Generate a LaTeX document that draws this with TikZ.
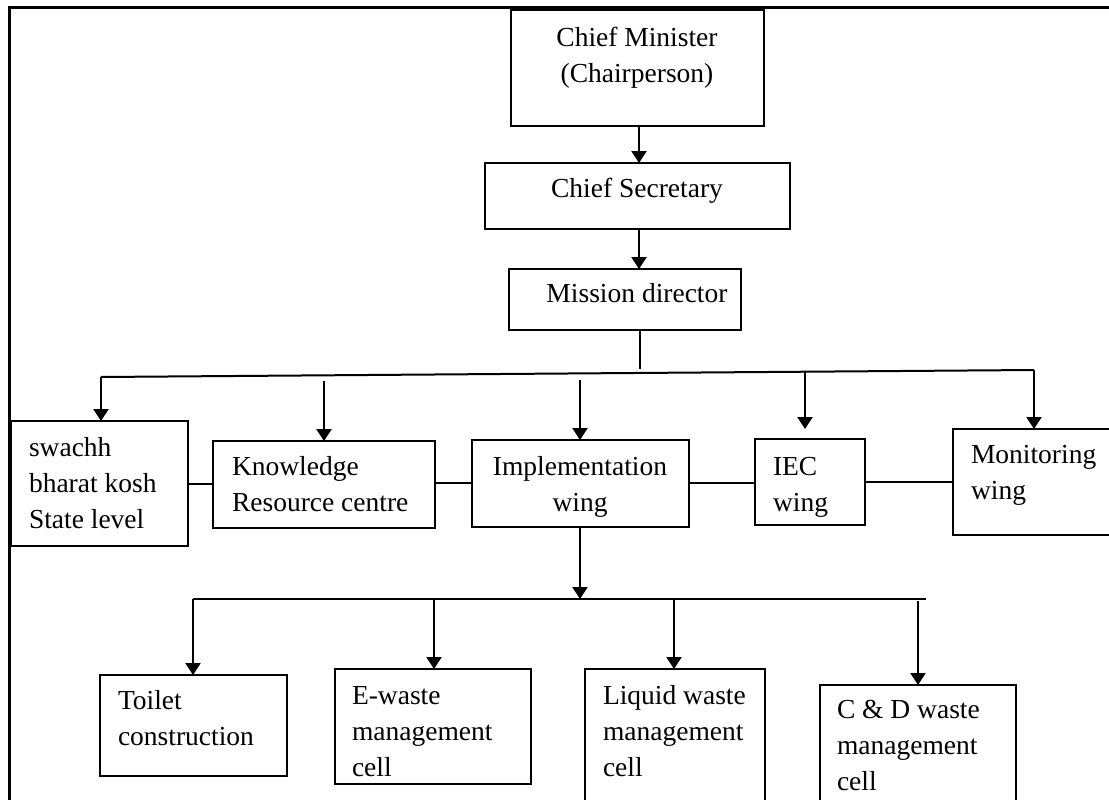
\documentclass[tikz,border=0pt]{standalone}
\usepackage{fontspec}
\setmainfont{Liberation Serif}
\usetikzlibrary{arrows.meta}
\begin{document}
\begin{tikzpicture}[x=1pt,y=-1pt,
  boxshape/.style={draw, line width=2pt, inner sep=0pt, outer sep=0pt, anchor=north west},
  txt/.style={inner sep=0pt, outer sep=0pt, font=\fontsize{27.5}{36}\selectfont, align=left, anchor=base west},
  ctxt/.style={inner sep=0pt, outer sep=0pt, font=\fontsize{27.5}{36}\selectfont, align=center, anchor=base},
  arr/.style={line width=2.3pt, -{Triangle[width=15pt,length=12pt]}},
  bus/.style={line width=2pt},
  link/.style={line width=1.6pt}
]
\useasboundingbox (0,0) rectangle (1109,800);
\clip (0,0) rectangle (1109,800);
\fill[white] (0,0) rectangle (1109,800);
% frame (top and left visible)
\draw[line width=3pt] (1115,8) -- (9,8) -- (9,806);

% top chain
\node[boxshape, minimum width=253pt, minimum height=116pt] (cm) at (511,10) {};
\node[ctxt] (cmt) at (637,83) {Chief Minister\\(Chairperson)};
\node[boxshape, minimum width=305pt, minimum height=66pt] (cs) at (485,163) {};
\node[ctxt] (cst) at (637,197) {Chief Secretary};
\node[boxshape, minimum width=232pt, minimum height=61pt] (md) at (509,269) {};
\node[ctxt] (mdt) at (637,302) {Mission director};

\draw[arr] (cm.south -| 639,0) -- (cs.north -| 639,0);
\draw[arr] (cs.south -| 639,0) -- (md.north -| 639,0);

% second row
\node[boxshape, minimum width=177pt, minimum height=125pt] (sbk) at (11,421) {};
\node[txt] (sbkt) at (29,528) {swachh\\bharat kosh\\State level};
\node[boxshape, minimum width=222pt, minimum height=87pt] (krc) at (213,441) {};
\node[txt] (krct) at (232,511) {Knowledge\\Resource centre};
\node[boxshape, minimum width=217pt, minimum height=87pt] (imp) at (472,440) {};
\node[ctxt] (impt) at (580,511) {Implementation\\wing};
\node[boxshape, minimum width=110pt, minimum height=86pt] (iec) at (755,439) {};
\node[txt] (iect) at (773,511) {IEC\\wing};
\node[boxshape, minimum width=170pt, minimum height=106pt] (mon) at (953,429) {};
\node[txt] (mont) at (971,499) {Monitoring\\wing};

% bus from mission director
\coordinate (mdb) at (640,369);
\coordinate (busL) at (101,377);
\coordinate (busR) at (1034,370);
\draw[line width=1.4pt] (md.south -| mdb) -- (mdb);
\draw[bus] (busL) -- (busR);
\draw[arr] (busL) -- (sbk.north -| busL);
\coordinate (ka) at (324,381);
\draw[arr] (ka) -- (krc.north -| ka);
\coordinate (ia) at (580,380);
\draw[arr] (ia) -- (imp.north -| ia);
\coordinate (ea) at (805,371);
\coordinate (eb) at (805,429);
\draw[arr] (ea) -- (eb);
\draw[arr] (busR) -- (mon.north -| busR);

% side links
\draw[link] (sbk.east |- 0,484) -- (krc.west |- 0,484);
\draw[link] (krc.east |- 0,483) -- (imp.west |- 0,483);
\draw[link] (imp.east |- 0,483) -- (iec.west |- 0,483);
\draw[link] (iec.east |- 0,482) -- (mon.west |- 0,482);

% third row
\coordinate (b2L) at (193,599);
\coordinate (b2R) at (926,599);
\coordinate (b2i) at (580,599);
\draw[arr] (imp.south -| b2i) -- (b2i);
\draw[bus] (b2L) -- (b2R);

\node[boxshape, minimum width=187pt, minimum height=101pt] (toi) at (100,675) {};
\node[txt] (toit) at (118,745) {Toilet\\construction};
\node[boxshape, minimum width=196pt, minimum height=115pt] (ew) at (335,669) {};
\node[txt] (ewt) at (352,776) {E-waste\\management\\cell};
\node[boxshape, minimum width=180pt, minimum height=140pt] (lw) at (585,669) {};
\node[txt] (lwt) at (603,776) {Liquid waste\\management\\cell};
\node[boxshape, minimum width=196pt, minimum height=130pt] (cd) at (820,685) {};
\node[txt] (cdt) at (837,790) {C \& D waste\\management\\cell};

\draw[arr] (b2L) -- (toi.north -| b2L);
\coordinate (e2) at (434,599);
\draw[arr] (e2) -- (ew.north -| e2);
\coordinate (l2) at (674,599);
\draw[arr] (l2) -- (lw.north -| l2);
\coordinate (c2) at (918,601);
\draw[arr] (c2) -- (cd.north -| c2);
\end{tikzpicture}
\end{document}
